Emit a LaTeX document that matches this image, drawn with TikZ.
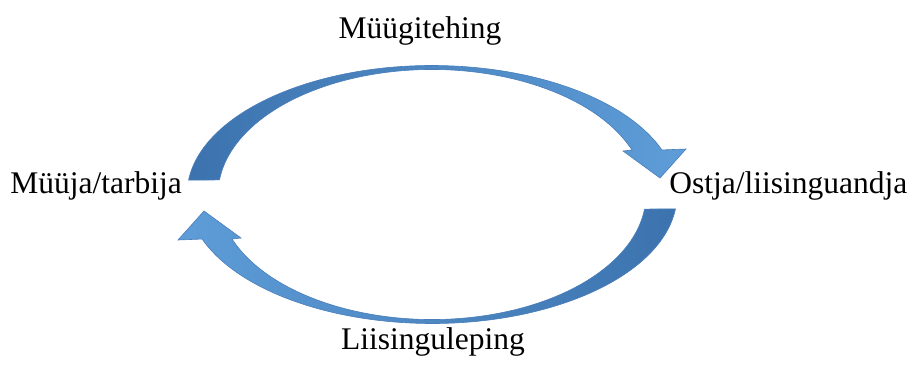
\documentclass[tikz,border=0pt]{standalone}
\usepackage{fontspec}
\setmainfont{Liberation Serif}
\usetikzlibrary{calc}

\definecolor{arrowdark}{HTML}{3C73AE}
\definecolor{arrowlight}{HTML}{5E9DD8}
\definecolor{arrowedge}{HTML}{4A7EBB}

\begin{document}
\begin{tikzpicture}[x=0.5pt, y=0.5pt, font=\fontsize{15.75}{18}\selectfont,
  lbl/.style={inner sep=0pt},
  ringarrow/.style={draw=arrowedge, line width=0.3pt, line join=miter}]
  \useasboundingbox (0,0) rectangle (909,365);
  \coordinate (C) at (432,170.5);

  % upper arrow, tail on the left
  \coordinate (Ht) at (660,187);
  \coordinate (Hr) at (686,216);
  \coordinate (Hl) at (623,214);
  \path[ringarrow, left color=arrowdark, right color=arrowlight]
    ($(C)+(173.6:245 and 129)$)
    arc[start angle=173.6, end angle=20.2, x radius=245, y radius=129]
    -- (Hr) -- (Ht) -- (Hl)
    -- ($(C)+(20.85:214 and 125)$)
    arc[start angle=20.85, end angle=173.3, x radius=214, y radius=125]
    -- cycle;

  % lower arrow, tail on the right
  \coordinate (Lt) at ($2*(C)-(Ht)$);
  \coordinate (Lr) at ($2*(C)-(Hr)$);
  \coordinate (Ll) at ($2*(C)-(Hl)$);
  \path[ringarrow, left color=arrowlight, right color=arrowdark]
    ($(C)+(-6.4:245 and 129)$)
    arc[start angle=-6.4, end angle=-159.8, x radius=245, y radius=129]
    -- (Lr) -- (Lt) -- (Ll)
    -- ($(C)+(-159.15:214 and 125)$)
    arc[start angle=-159.15, end angle=-6.7, x radius=214, y radius=125]
    -- cycle;

  \node[lbl, anchor=base] (sale) at (420,326) {Müügitehing};
  \node[lbl, anchor=base west] (seller) at (10,172) {Müüja/tarbija};
  \node[lbl, anchor=base west] (buyer) at (669,172) {Ostja/liisinguandja};
  \node[lbl, anchor=base] (lease) at (433,16) {Liisinguleping};
\end{tikzpicture}
\end{document}
